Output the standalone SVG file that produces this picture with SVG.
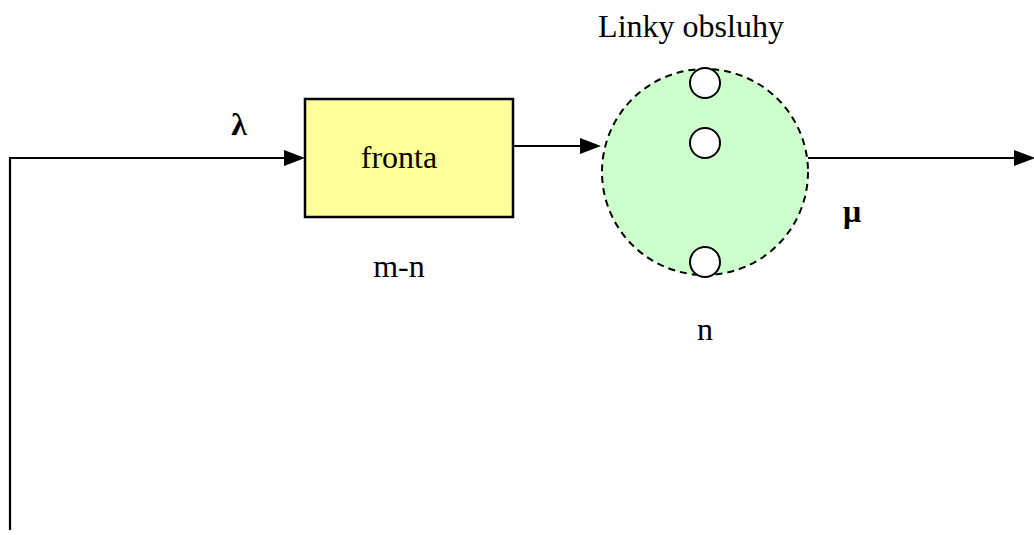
<svg xmlns="http://www.w3.org/2000/svg" width="1034" height="535" viewBox="0 0 1034 535">
<defs>
<style>
.t{font-family:"Liberation Serif","Times New Roman",serif;font-size:32px;fill:#000;}
.b{font-weight:bold;}
.ln{stroke:#000;stroke-width:2.2;fill:none;}
.ah{fill:#000;}
</style>
</defs>
<rect width="1034" height="535" fill="#fff"/>
<g id="connectors">
<polyline class="ln" points="10,530 10,158 286,158"/>
<path class="ah" d="M284,150 L305,158 L284,166 Z"/>
<line class="ln" x1="513" y1="146" x2="582" y2="146"/>
<path class="ah" d="M580,138 L601,146 L580,154 Z"/>
<line class="ln" x1="808" y1="158" x2="1016" y2="158"/>
<path class="ah" d="M1014,150 L1035,158 L1014,166 Z"/>
</g>
<g id="queue">
<rect x="305" y="99" width="208" height="118" fill="#FFFF99" stroke="#000" stroke-width="2.5"/>
<text class="t" x="399" y="168" text-anchor="middle">fronta</text>
<text class="t" x="399" y="277" text-anchor="middle">m-n</text>
</g>
<g id="servers">
<circle cx="705" cy="172" r="103" fill="#CCFFCC" stroke="#000" stroke-width="2" stroke-dasharray="7,5"/>
<circle cx="705" cy="83" r="15" fill="#fff" stroke="#000" stroke-width="2"/>
<circle cx="705" cy="143" r="15" fill="#fff" stroke="#000" stroke-width="2"/>
<circle cx="705" cy="262" r="15" fill="#fff" stroke="#000" stroke-width="2"/>
<text class="t" x="691" y="37" text-anchor="middle">Linky obsluhy</text>
<text class="t" x="705" y="340" text-anchor="middle">n</text>
</g>
<g id="labels">
<text class="t b" x="239" y="135" text-anchor="middle">λ</text>
<text class="t b" x="852" y="222" text-anchor="middle">μ</text>
</g>
</svg>
